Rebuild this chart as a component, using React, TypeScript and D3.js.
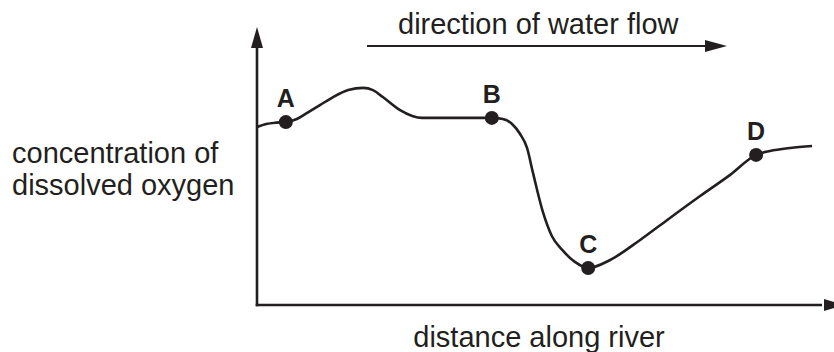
import React, { useEffect, useRef } from "react";
import * as d3 from "d3";

// distance along river (% of plotted length) and dissolved oxygen (% of axis height)
const distance = [
  0, 1.6, 3.3, 5.0, 6.9, 8.7, 10.9, 13.2, 15.8, 18.4, 20.1, 21.8, 24.8, 26.9, 28.6,
  40.7, 42.6, 44.2, 45.6, 46.8, 47.8, 49.6, 51.1, 52.9, 55.1, 57.4, 61.2, 66.4,
  71.1, 76.8, 82.0, 86.5, 88.9, 92.4, 96.2,
];
const oxygen = [
  64.0, 65.1, 65.6, 65.8, 66.9, 69.1, 71.9, 74.8, 77.3, 78.1, 77.3, 74.8, 70.1, 68.0, 67.3,
  67.3, 66.9, 65.1, 61.5, 56.5, 47.8, 33.1, 24.8, 19.8, 15.5, 13.3, 16.2, 23.4,
  30.6, 39.2, 46.8, 54.0, 55.4, 56.5, 57.2,
];

const pointLabels = ["A", "B", "C", "D"];
const pointDistance = [5.0, 40.7, 57.4, 86.5];
const pointOxygen = [65.8, 67.3, 13.3, 54.0];

const yTitle = ["concentration of", "dissolved oxygen"];
const xTitle = "distance along river";
const flowTitle = "direction of water flow";

const W = 834;
const H = 352;
const INK = "#231f20";
const FONT = "'Liberation Sans', Arial, Helvetica, sans-serif";

export default function App() {
  const ref = useRef<SVGSVGElement>(null);

  useEffect(() => {
    const svg = d3.select(ref.current);
    svg.selectAll("*").remove();

    const x = d3.scaleLinear().domain([0, 100]).range([257, 834]);
    const y = d3.scaleLinear().domain([0, 100]).range([305, 27]);

    const x0 = x(0), y0 = y(0);

    // axes
    svg.append("line")
      .attr("x1", x0).attr("y1", y0 + 1.2)
      .attr("x2", x0).attr("y2", y(100) + 18)
      .attr("stroke", INK).attr("stroke-width", 2.6);
    svg.append("path")
      .attr("d", `M${x0},${y(100)} L${x0 - 6},${y(100) + 21} L${x0 + 6},${y(100) + 21} Z`)
      .attr("fill", INK);

    svg.append("line")
      .attr("x1", x0 - 1.3).attr("y1", y0)
      .attr("x2", x(100) - 12).attr("y2", y0)
      .attr("stroke", INK).attr("stroke-width", 2.6);
    svg.append("path")
      .attr("d", `M${x(100) - 10},${y0 - 6} L${x(100) + 10},${y0} L${x(100) - 10},${y0 + 6} Z`)
      .attr("fill", INK);

    // flow arrow
    const fy = 46;
    svg.append("line")
      .attr("x1", 367).attr("y1", fy).attr("x2", 708).attr("y2", fy)
      .attr("stroke", INK).attr("stroke-width", 2.2);
    svg.append("path")
      .attr("d", `M705,${fy - 6} L727,${fy} L705,${fy + 6} Z`)
      .attr("fill", INK);

    // curve
    const data = distance.map((d, i) => [d, oxygen[i]] as [number, number]);
    const line = d3.line<[number, number]>()
      .x(d => x(d[0]))
      .y(d => y(d[1]))
      .curve(d3.curveMonotoneX);
    svg.append("path")
      .datum(data)
      .attr("d", line)
      .attr("fill", "none")
      .attr("stroke", INK)
      .attr("stroke-width", 2.6);

    // points + labels
    pointLabels.forEach((lab, i) => {
      const px = x(pointDistance[i]);
      const py = y(pointOxygen[i]);
      svg.append("circle")
        .attr("cx", px).attr("cy", py).attr("r", 7)
        .attr("fill", INK);
      svg.append("text")
        .attr("x", px).attr("y", py - 15)
        .attr("text-anchor", "middle")
        .attr("font-family", FONT)
        .attr("font-weight", "bold")
        .attr("font-size", 25)
        .attr("fill", INK)
        .text(lab);
    });

    // titles
    const text = (t: string, tx: number, ty: number, anchor = "start") =>
      svg.append("text")
        .attr("x", tx).attr("y", ty)
        .attr("text-anchor", anchor)
        .attr("font-family", FONT)
        .attr("font-size", 29)
        .attr("fill", INK)
        .text(t);

    text(flowTitle, 398, 34);
    yTitle.forEach((t, i) => text(t, 12, 163 + i * 32));
    text(xTitle, 539, 347, "middle");
  }, []);

  return (
    <svg
      ref={ref}
      width={W}
      height={H}
      style={{ position: "absolute", left: 0, top: 0, background: "#fff" }}
    />
  );
}
